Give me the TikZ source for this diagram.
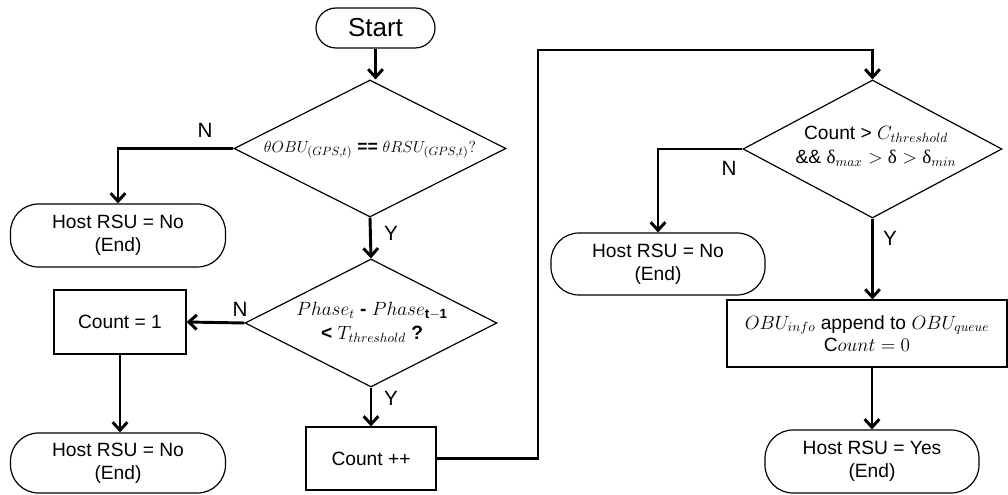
\documentclass[tikz,border=0pt]{standalone}
\usepackage{fontspec}
\setmainfont{Liberation Sans}
\newfontfamily\lserif{Liberation Serif}
\usetikzlibrary{shapes.geometric,arrows.meta}
\tikzset{
  base/.style={draw=black,line width=0.9pt,inner sep=0pt,font=\fontsize{14.4}{17}\selectfont,align=center},
  term/.style={base,rounded corners=21pt},
  proc/.style={base},
  dec/.style={draw=black,line width=0.9pt,shape=diamond,inner sep=0pt},
  flow/.style={line width=2.2pt,-{Straight Barb[length=6pt,width=11pt]}},
  lab/.style={font=\fontsize{15.5}{18}\selectfont},
  dtext/.style={font=\fontsize{14.4}{17}\selectfont,align=center,inner sep=0pt}
}
\begin{document}
\begin{tikzpicture}[x=0.75pt,y=-0.75pt]
\useasboundingbox (0,0) rectangle (1008,495);
% nodes
\node[term,rounded corners=15pt,minimum width=89.25pt,minimum height=30pt,font=\fontsize{19.5}{22}\selectfont] (start) at (375.5,28) {Start};
\node[dec,minimum width=204pt,minimum height=102.75pt] (d1) at (370,148.5) {};
\node[dtext,font=\fontsize{13.2}{16}\selectfont] (t1) at (370,150) {$\theta OBU_{(GPS,t)}$ \textbf{==} $\theta RSU_{(GPS,t)}?$};
\node[term,minimum width=161.25pt,minimum height=47.25pt] (e1) at (118,235.5) {Host RSU = No\\(End)};
\node[dec,minimum width=189pt,minimum height=96pt] (d2) at (371,323) {};
\node[dtext] (t2) at (372,322) {$Phase_t$ \textbf{-} $Phase_{\mathbf{t-1}}$\\[1pt]\textbf{<} $T_{threshold}$ \textbf{?}};
\node[proc,minimum width=99pt,minimum height=48pt] (c1) at (120,322) {Count = 1};
\node[term,minimum width=161.25pt,minimum height=45pt] (e2) at (118,463) {Host RSU = No\\(End)};
\node[proc,minimum width=97.5pt,minimum height=47.25pt] (cpp) at (371,458.5) {Count ++};
\node[dec,minimum width=194.25pt,minimum height=103.5pt] (d3) at (872.5,149) {};
\node[dtext] (t3) at (876,146) {Count > $C_{threshold}$\\[1pt]\&\& {\lserif δ}$_{max} > $ {\lserif δ} $>$ {\lserif δ}$_{min}$};
\node[term,minimum width=160.5pt,minimum height=46.5pt] (e3) at (658,264) {Host RSU = No\\(End)};
\node[proc,minimum width=210pt,minimum height=50.25pt] (obu) at (867,333.5) {$OBU_{info}$ append to $OBU_{queue}$\\C$ount=0$};
\node[term,minimum width=160.5pt,minimum height=47.25pt] (e4) at (872,461.5) {Host RSU = Yes\\(End)};
% labels
\node[lab] (n1) at (205,130) {N};
\node[lab] (y1) at (391,233) {Y};
\node[lab] (n2) at (240,309) {N};
\node[lab] (y2) at (391,398) {Y};
\node[lab] (n3) at (729,168) {N};
\node[lab] (y3) at (890,238) {Y};
% connectors
\coordinate (k1) at (538,50);
\draw[flow] (start.south) -- (start.south |- d1.north);
\draw[flow] (d1.west) -| (e1.north);
\draw[flow] (d1.south) -- (d2.north);
\draw[flow] (d2.west) -- (c1.east);
\draw[flow] (c1.south) -- (c1.south |- e2.north);
\draw[flow] (d2.south) -- (cpp.north);
\draw[flow] (cpp.east) -| (k1) -| (d3.north);
\draw[flow] (d3.west) -| (e3.north);
\draw[flow] (d3.south) -- (d3.south |- obu.north);
\draw[flow] (e4.north |- obu.south) -- (e4.north);
\end{tikzpicture}
\end{document}
